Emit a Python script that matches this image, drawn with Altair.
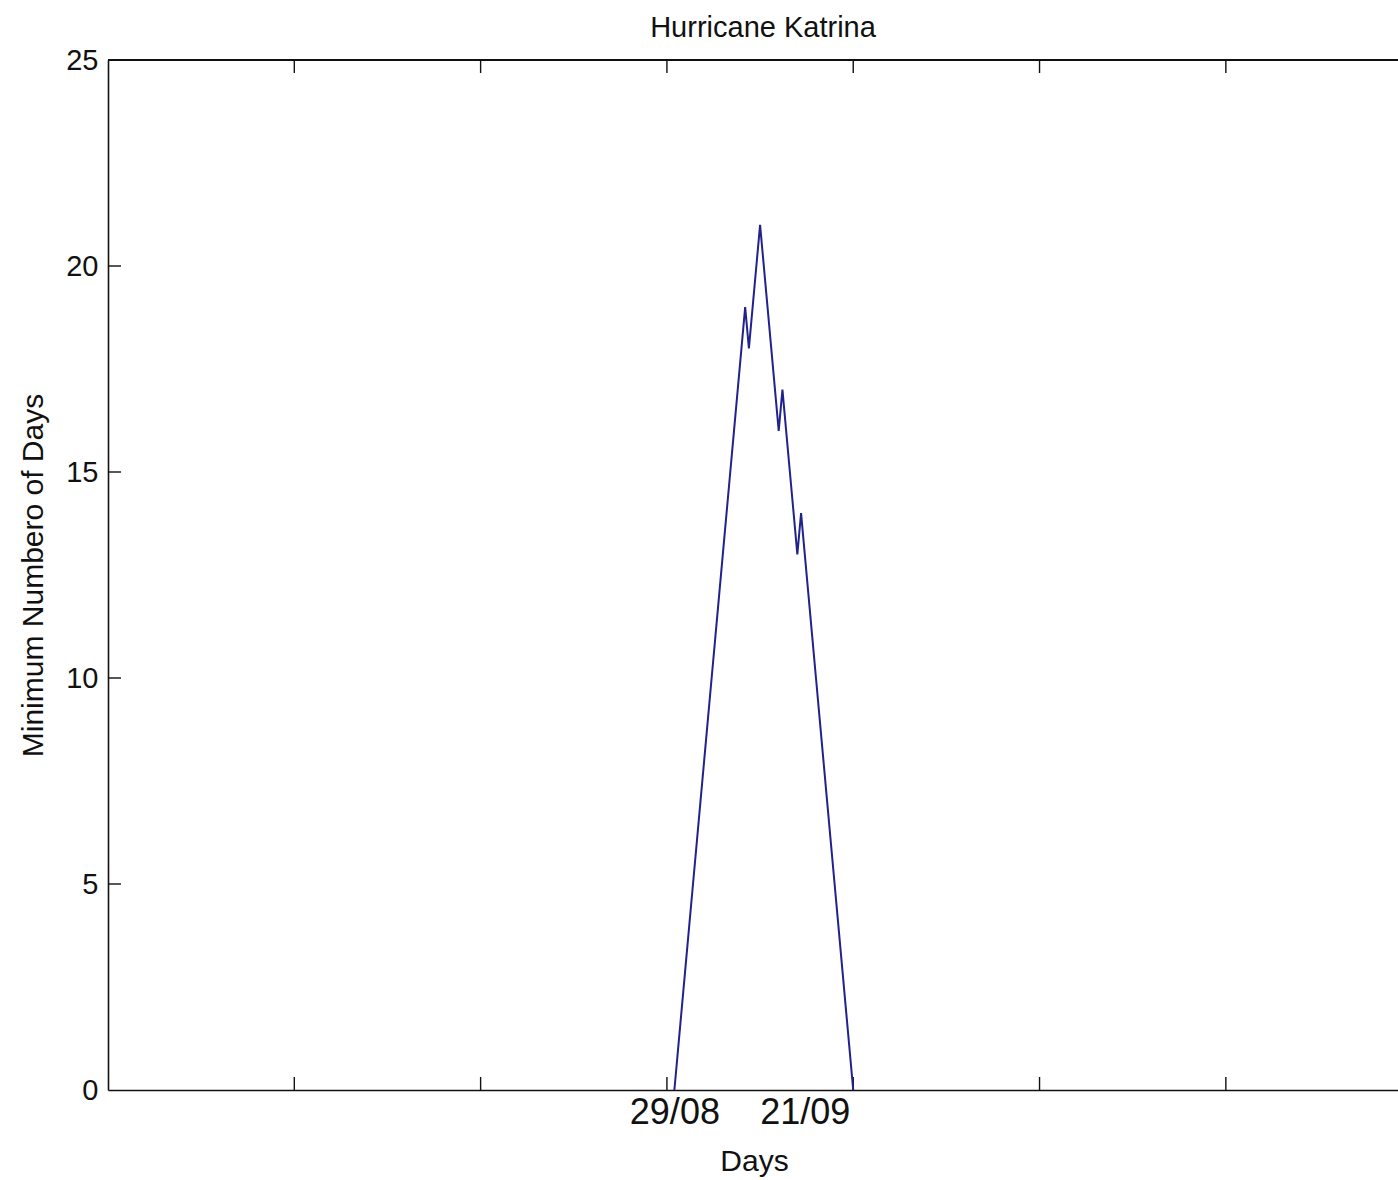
import altair as alt
import pandas as pd

# --- data ---
days = [152, 153, 154, 155, 156, 157, 158, 159, 160, 161, 162, 163, 164, 165, 166, 167,
        168, 169, 170, 171, 172, 173, 174, 175, 176, 177, 178, 179, 180, 181, 182, 183,
        184, 185, 186, 187, 188, 189, 190, 191, 192, 193, 194, 195, 196, 197, 198, 199, 200]
min_days = [0, 1, 2, 3, 4, 5, 6, 7, 8, 9, 10, 11, 12, 13, 14, 15, 16, 17, 18, 19,
            18, 19, 20, 21, 20, 19, 18, 17, 16, 17, 16, 15, 14, 13, 14,
            13, 12, 11, 10, 9, 8, 7, 6, 5, 4, 3, 2, 1, 0]
x_tick_values = [50, 100, 150, 200, 250, 300]
y_tick_values = [0, 5, 10, 15, 20, 25]
date_label_positions = [152, 187]
date_labels = ["29/08", "21/09"]
chart_title = ["Hurricane Katrina"]

W, H = 1290, 1030
FONT = "Liberation Sans"
TICK_LEN = 13
INK = "#111111"

line_df = pd.DataFrame({"day": days, "value": min_days})
xt_df = pd.DataFrame({"t": x_tick_values})
yt_df = pd.DataFrame({"t": y_tick_values[1:-1]})
title_df = pd.DataFrame({"label": chart_title})

label_expr = " : ".join(
    f"datum.value == {p} ? '{l}'" for p, l in zip(date_label_positions, date_labels)
) + " : ''"

x_scale = alt.Scale(domain=[0, 346.2], nice=False, zero=False)
y_scale = alt.Scale(domain=[0, 25], nice=False)

x_axis = alt.Axis(
    title="Days", values=date_label_positions, labelExpr=label_expr,
    ticks=False, grid=False, labelFontSize=36, labelFont=FONT, labelColor=INK,
    labelPadding=5, titleFont=FONT, titleFontSize=30, titleFontWeight="normal",
    titleColor=INK, titleY=80, titleBaseline="alphabetic", titleX=646,
    domainColor=INK, domainWidth=1.6, labelOverlap=False, labelFlush=False,
)
y_axis = alt.Axis(
    title="Minimum Numbero of Days", values=y_tick_values, ticks=False, grid=False,
    labelFontSize=29, labelFont=FONT, labelColor=INK, labelPadding=10,
    titleFont=FONT, titleFontSize=30, titleFontWeight="normal", titleColor=INK,
    titleX=-66, titleBaseline="alphabetic",
    domainColor=INK, domainWidth=1.6, labelFlush=False,
)

X = lambda f: alt.X(f, type="quantitative", scale=x_scale, axis=x_axis)
Y = lambda f: alt.Y(f, type="quantitative", scale=y_scale, axis=y_axis)

line = alt.Chart(line_df).mark_line(color="#22228c", strokeWidth=2).encode(
    x=X("day"), y=Y("value")
)

top_rule = alt.Chart(xt_df).mark_rule(color=INK, strokeWidth=1.6).encode(
    x=alt.value(0), x2=alt.value(W), y=alt.value(0)
)

x_ticks_bottom = alt.Chart(xt_df).mark_rule(color=INK, strokeWidth=1.4).encode(
    x=X("t"), y=alt.value(H), y2=alt.value(H - TICK_LEN)
)
x_ticks_top = alt.Chart(xt_df).mark_rule(color=INK, strokeWidth=1.4).encode(
    x=X("t"), y=alt.value(0), y2=alt.value(TICK_LEN)
)
y_ticks = alt.Chart(yt_df).mark_rule(color=INK, strokeWidth=1.4).encode(
    y=Y("t"), x=alt.value(0), x2=alt.value(TICK_LEN)
)

title_text = alt.Chart(title_df).mark_text(
    font=FONT, fontSize=29, color=INK, align="center", baseline="alphabetic"
).encode(text="label:N", x=alt.value(W / 2 + 10), y=alt.value(-23))

chart = alt.layer(
    top_rule, x_ticks_bottom, x_ticks_top, y_ticks, line, title_text
).properties(
    width=W, height=H,
    padding={"left": 108, "top": 60, "right": 0, "bottom": 90},
    autosize=alt.AutoSizeParams(type="none"),
    background="white",
).configure_view(stroke=None)

chart.save("out.html", embed_options={"renderer": "svg", "actions": False})
